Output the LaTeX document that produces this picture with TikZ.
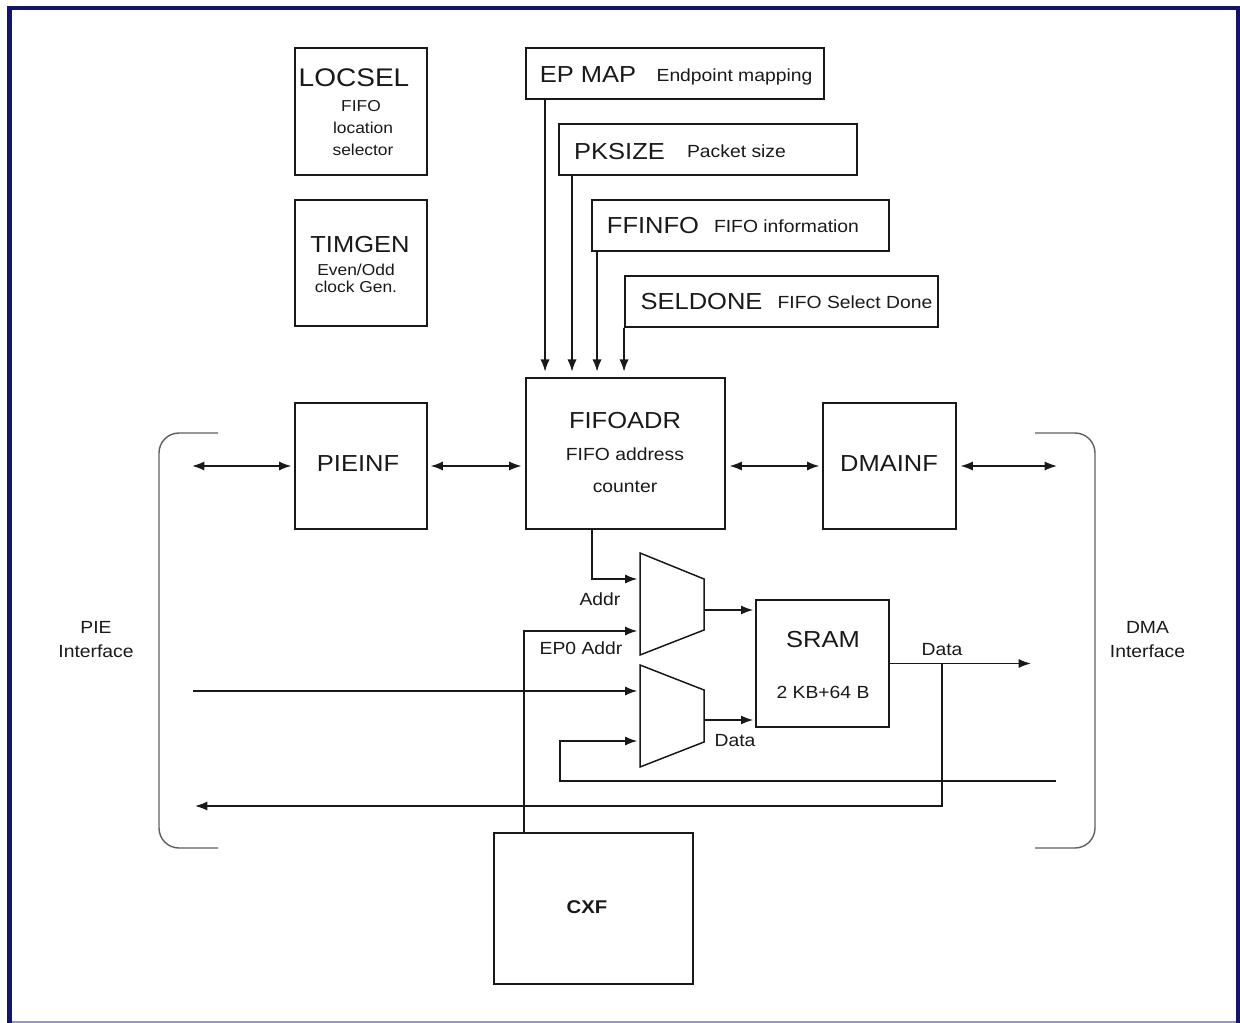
\documentclass[tikz,border=0pt]{standalone}
\usepackage{fontspec}
\setmainfont{Liberation Sans}[FakeStretch=1.1]
\usetikzlibrary{arrows.meta}
\definecolor{linec}{RGB}{25,25,25}
\definecolor{brkc}{RGB}{95,95,95}
\definecolor{navy}{RGB}{20,20,105}
\definecolor{navylight}{RGB}{150,150,200}
\begin{document}
\begin{tikzpicture}[x={(0.02cm,0)},y={(0,-0.02cm)},
  blk/.style={draw=linec, line width=1.1pt, inner sep=0pt},
  hdr/.style={font=\fontsize{13.2}{15}\selectfont, inner sep=0pt, anchor=base, text=linec},
  sml/.style={font=\fontsize{10}{12}\selectfont, inner sep=0pt, anchor=base, text=linec},
  tiny/.style={font=\fontsize{9}{11}\selectfont, inner sep=0pt, anchor=base, text=linec},
  arr/.style={draw=linec, line width=0.95pt, -{Latex[length=7pt,width=5.2pt]}},
  darr/.style={draw=linec, line width=0.95pt, {Latex[length=7pt,width=5.2pt]}-{Latex[length=7pt,width=5.2pt]}},
  muxline/.style={draw=linec, line width=0.85pt},
  brk/.style={draw=brkc, line width=0.8pt, rounded corners=0.4cm}]
\useasboundingbox (0,0) rectangle (1240,1023);
% frame
\draw[navylight, line width=1.6pt] (9.5,1022) -- (1238,1022);
\draw[navy, line width=2.3pt] (9.5,1023) -- (9.5,7.7) -- (1238,7.7) -- (1238,1023);

% LOCSEL
\node[blk, minimum width=2.64cm, minimum height=2.54cm] (locsel) at (361,111.5) {};
\node[hdr, font=\fontsize{14.5}{16}\selectfont] (locselT) at (354,87) {LOCSEL};
\node[tiny] (locselA) at (361,112) {FIFO};
\node[tiny] (locselB) at (363,134) {location};
\node[tiny] (locselC) at (363,156) {selector};
% TIMGEN
\node[blk, minimum width=2.64cm, minimum height=2.52cm] (timgen) at (361,263) {};
\node[hdr] (timgenT) at (360,253) {TIMGEN};
\node[tiny] (timgenA) at (356,276) {Even/Odd};
\node[tiny] (timgenB) at (356,293) {clock Gen.};

% register boxes
\node[blk, minimum width=5.96cm, minimum height=1.02cm] (epmap) at (675,73.5) {};
\node[hdr] (epmapT) at (588,82.5) {EP MAP};
\node[sml] (epmapD) at (734.5,81.5) {Endpoint mapping};
\node[blk, minimum width=5.96cm, minimum height=1.02cm] (pksize) at (708,149.5) {};
\node[hdr] (pksizeT) at (619.5,160) {PKSIZE};
\node[sml] (pksizeD) at (736.5,157.5) {Packet size};
\node[blk, minimum width=5.94cm, minimum height=1.02cm] (ffinfo) at (740.5,225.5) {};
\node[hdr] (ffinfoT) at (653,234) {FFINFO};
\node[sml] (ffinfoD) at (786.5,233) {FIFO information};
\node[blk, minimum width=6.26cm, minimum height=1.02cm] (seldone) at (781.5,301.5) {};
\node[hdr] (seldoneT) at (701.5,310) {SELDONE};
\node[sml] (seldoneD) at (855,309) {FIFO Select Done};

% main blocks
\node[blk, minimum width=3.98cm, minimum height=3.02cm] (fifoadr) at (625.5,453.5) {};
\node[hdr] (fifoadrT) at (625,429) {FIFOADR};
\node[sml] (fifoadrA) at (625,460) {FIFO address};
\node[sml] (fifoadrB) at (625,492) {counter};
\node[blk, minimum width=2.64cm, minimum height=2.52cm] (pieinf) at (361,466) {};
\node[hdr] (pieinfT) at (358,472) {PIEINF};
\node[blk, minimum width=2.66cm, minimum height=2.52cm] (dmainf) at (889.5,466) {};
\node[hdr] (dmainfT) at (889,472) {DMAINF};
\node[blk, minimum width=2.66cm, minimum height=2.54cm] (sram) at (822.5,663.5) {};
\node[hdr] (sramT) at (823,647) {SRAM};
\node[sml] (sramS) at (823,698) {2 KB+64 B};
\node[blk, minimum width=3.98cm, minimum height=3.02cm] (cxf) at (593.5,908.5) {};
\node[font=\fontsize{10.5}{12}\selectfont\bfseries, inner sep=0pt, anchor=base, text=linec] (cxfT) at (587,913) {CXF};

% interface brackets and labels
\draw[brk] (218,433) -| (159,848) -- (218,848);
\draw[brk] (1035,433) -| (1095,848) -- (1035,848);
\node[sml] (pieL1) at (96,633) {PIE};
\node[sml] (pieL2) at (96,657) {Interface};
\node[sml] (dmaL1) at (1147.5,633) {DMA};
\node[sml] (dmaL2) at (1147.5,657) {Interface};

% muxes
\draw[muxline] (640,553) -- (704,579) -- (704,630) -- (640,655) -- cycle;
\draw[muxline] (640,665) -- (704,690) -- (704,742) -- (640,767) -- cycle;
\coordinate (m1a) at (640,579);
\coordinate (m1b) at (640,631);
\coordinate (m1o) at (704,610);
\coordinate (m2a) at (640,691);
\coordinate (m2b) at (640,741);
\coordinate (m2o) at (704,720);

% free ends
\coordinate (pieL) at (192,466);
\coordinate (dmaR) at (1057,466);
\coordinate (pieIn) at (193,691);
\coordinate (dmaIn) at (1056,781);
\coordinate (fbk) at (560,741);
\coordinate (dmaOut) at (1031,663.5);
\coordinate (tap) at (942,663.5);
\coordinate (pieOut) at (195,806);

% register arrows into FIFOADR
\draw[arr, shorten >=3pt] ([xshift=0.4cm]epmap.south west) -- ([xshift=0.4cm]fifoadr.north west);
\draw[arr, shorten >=3pt] ([xshift=0.28cm]pksize.south west) -- ([xshift=0.94cm]fifoadr.north west);
\draw[arr, shorten >=3pt] ([xshift=0.12cm]ffinfo.south west) -- ([xshift=1.44cm]fifoadr.north west);
\draw[arr, shorten >=3pt] (seldone.south west) -- ([xshift=1.98cm]fifoadr.north west);

% bidirectional links
\draw[darr, shorten >=1.5pt] (pieL) -- (pieinf.west);
\draw[darr, shorten <=1.5pt, shorten >=2pt] (pieinf.east) -- (pieinf.east -| fifoadr.west);
\draw[darr, shorten <=2pt, shorten >=1.5pt] (fifoadr.east |- dmainf.west) -- (dmainf.west);
\draw[darr, shorten <=2pt] (dmainf.east) -- (dmaR);

% datapath
\draw[arr, shorten >=1.5pt] ([xshift=1.34cm]fifoadr.south west) |- (m1a);
\draw[arr, shorten >=1.5pt] ([xshift=0.62cm]cxf.north west) |- (m1b);
\draw[arr, shorten >=1pt] (m1o) -- (m1o -| sram.west);
\draw[arr, shorten >=1.5pt] (pieIn) -- (m2a);
\draw[arr, shorten >=1pt] (m2o) -- (m2o -| sram.west);
\draw[arr, shorten >=1.5pt] (dmaIn) -| (fbk) -- (m2b);
\draw[arr] (sram.east) -- (dmaOut);
\draw[arr] (tap) |- (pieOut);

% datapath labels
\node[sml] (addrL) at (600,605) {Addr};
\node[sml] (ep0L) at (581,654) {EP0 Addr};
\node[sml] (dataL1) at (735,746) {Data};
\node[sml] (dataL2) at (942,655) {Data};
\end{tikzpicture}
\end{document}
